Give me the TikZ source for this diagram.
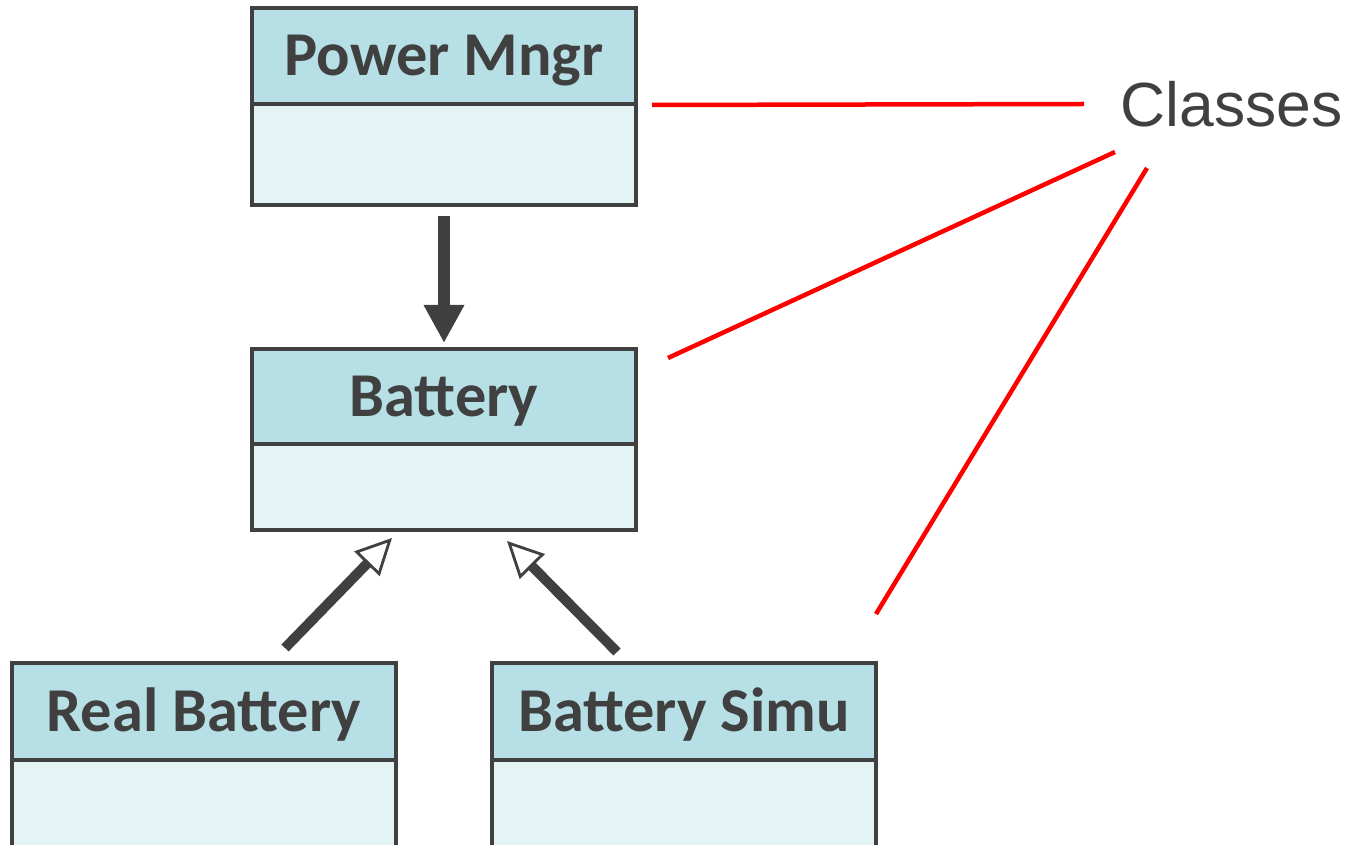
\documentclass[tikz,border=0pt]{standalone}
\usepackage{fontspec}
\setmainfont{Liberation Sans}
\newfontfamily\classfont{Carlito}
\usetikzlibrary{arrows.meta,positioning,calc}
\definecolor{HeadBlue}{RGB}{183,224,230}
\definecolor{BodyBlue}{RGB}{228,243,244}
\definecolor{DarkGray}{RGB}{64,64,64}

\begin{document}
\begin{tikzpicture}[
  head/.style={
    draw=DarkGray,
    fill=HeadBlue,
    minimum width=7.68cm,
    minimum height=1.92cm,
    outer sep=0pt,
    inner sep=0pt,
    line width=2pt,
    text=DarkGray,
    text height=22.5pt,
    text depth=0pt,
    font=\classfont\bfseries\fontsize{35.5}{40}\selectfont
  },
  body/.style={
    draw=DarkGray,
    fill=BodyBlue,
    minimum width=7.68cm,
    outer sep=0pt,
    line width=2pt
  },
  uses/.style={-{Triangle[length=0.76cm, width=0.76cm]}, line width=0.24cm, draw=DarkGray},
  inherit/.style={-{Triangle[open, length=0.72cm, width=0.7cm, line width=1.6pt, fill=white]}, line width=0.2cm, draw=DarkGray},
  callout/.style={draw=red, line width=0.09cm},
  note/.style={inner sep=0pt, text=DarkGray, font=\fontsize{35.5}{40}\selectfont}
]
\useasboundingbox (0,0) rectangle (26.98,16.88);

\node[head] (powerhead) at (8.88,15.76) {Power Mngr};
\node[body, minimum height=2.02cm, below=0pt of powerhead] (powerbody) {};

\node[head, minimum height=1.90cm] (batteryhead) at (8.88,8.95) {Battery};
\node[body, minimum height=1.72cm, below=0pt of batteryhead] (batterybody) {};

\node[head, minimum height=1.94cm] (realhead) at (4.08,2.65) {Real Battery};
\node[body, minimum height=2.2cm, below=0pt of realhead] (realbody) {};

\node[head, minimum height=1.94cm] (simuhead) at (13.68,2.65) {Battery Simu};
\node[body, minimum height=2.2cm, below=0pt of simuhead] (simubody) {};

\node[note] (classes) at (24.63,14.80) {Classes};

\draw[uses, shorten <=0.22cm, shorten >=0.12cm] (powerbody.south) -- (batteryhead.north);
\draw[inherit] ($(realhead.north)+(1.62,0.30)$) -- ($(batterybody.south)+(-1.04,-0.16)$);
\draw[inherit] ($(simuhead.north)+(-1.34,0.22)$) -- ($(batterybody.south)+(1.26,-0.22)$);

\draw[callout] ($(powerhead.south east)+(0.32,-0.02)$) -- ($(classes.west)+(-0.72,0)$);
\draw[callout] ($(batteryhead.east)+(0.64,0.77)$) -- ($(classes.center)+(-2.33,-0.96)$);
\draw[callout] ($(simuhead.north east)+(0,0.98)$) -- ($(classes.center)+(-1.69,-1.28)$);
\end{tikzpicture}
\end{document}
